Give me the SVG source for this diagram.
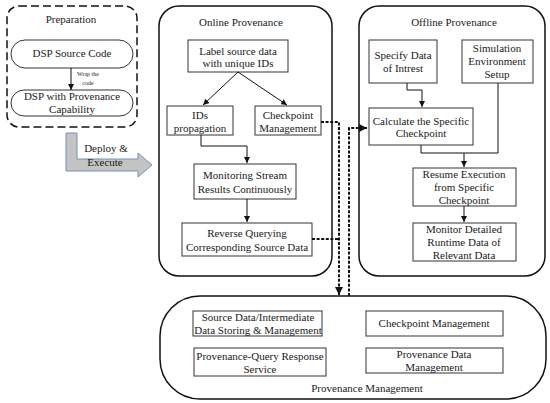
<svg xmlns="http://www.w3.org/2000/svg" width="550" height="403" viewBox="0 0 550 403" font-family="'Liberation Serif', 'DejaVu Serif', serif">
<defs>
<style>
text{font-family:'Liberation Serif','DejaVu Serif',serif;font-size:11px;fill:#1a1a1a;text-anchor:middle}
.sm{font-size:6px}
.box{fill:#fff;stroke:#333;stroke-width:1}
.cont{fill:#fff;stroke:#111;stroke-width:1.5}
.ln{fill:none;stroke:#111;stroke-width:1}
.dash{fill:none;stroke:#111;stroke-width:2;stroke-dasharray:3,1.6}
</style>
<marker id="ah" viewBox="0 0 10 10" refX="10" refY="5" markerWidth="6" markerHeight="6" markerUnits="userSpaceOnUse" orient="auto"><path d="M0,0L10,5L0,10z" fill="#111"/></marker>
<marker id="ahb" viewBox="0 0 10 10" refX="10" refY="5" markerWidth="8" markerHeight="8" markerUnits="userSpaceOnUse" orient="auto"><path d="M0,0L10,5L0,10z" fill="#111"/></marker>
</defs>
<rect width="550" height="403" fill="#fff"/>

<g id="preparation">
<rect x="7" y="6" width="130" height="121" rx="12" fill="#fff" stroke="#111" stroke-width="1.5" stroke-dasharray="8,4"/>
<text x="71" y="23">Preparation</text>
</g>
<g id="dsp-source">
<rect x="11" y="40" width="122" height="28" rx="14" class="box" stroke-width="1.2"/>
<text x="72" y="57">DSP Source Code</text>
</g>
<g id="dsp-prov">
<rect x="11" y="90" width="122" height="26" rx="13" class="box" stroke-width="1.2"/>
<text x="72" y="100">DSP with Provenance</text>
<text x="72" y="113">Capability</text>
</g>
<g id="deploy">
<polygon points="66,133 77,133 77,159 138,159 138,153 152,165 138,177 138,171 66,171" fill="#c4c4c4" stroke="#7392b8" stroke-width="1"/>
<text x="106" y="152">Deploy &amp;</text>
<text x="105" y="166">Execute</text>
</g>

<g id="online">
<rect x="159" y="6" width="173" height="270" rx="20" class="cont"/>
<text x="241" y="26">Online Provenance</text>
</g>
<g id="label"><rect x="188" y="40" width="100" height="32" class="box"/><text x="238" y="55">Label source data</text><text x="238" y="67">with unique IDs</text></g>
<g id="ids"><rect x="167" y="106" width="66" height="29" class="box"/><text x="200" y="119">IDs</text><text x="200" y="132">propagation</text></g>
<g id="ckpt-online"><rect x="255" y="106" width="66" height="29" class="box"/><text x="288" y="119">Checkpoint</text><text x="288" y="132">Management</text></g>
<g id="monitoring"><rect x="194" y="164" width="102" height="35" class="box"/><text x="245" y="179">Monitoring Stream</text><text x="245" y="193">Results Continuously</text></g>
<g id="reverse"><rect x="182" y="223" width="130" height="33" class="box"/><text x="247" y="237">Reverse Querying</text><text x="247" y="251">Corresponding Source Data</text></g>

<g id="offline">
<rect x="359" y="6" width="186" height="270" rx="20" class="cont"/>
<text x="454" y="26">Offline Provenance</text>
</g>
<g id="specify"><rect x="369" y="40" width="68" height="43" class="box"/><text x="403" y="59">Specify Data</text><text x="403" y="72">of Intrest</text></g>
<g id="simulation"><rect x="462" y="40" width="71" height="43" class="box"/><text x="497" y="52">Simulation</text><text x="497" y="65">Environment</text><text x="497" y="78">Setup</text></g>
<g id="calculate"><rect x="369" y="108" width="104" height="37" class="box"/><text x="421" y="125">Calculate the Specific</text><text x="421" y="137">Checkpoint</text></g>
<g id="resume"><rect x="413" y="168" width="103" height="38" class="box"/><text x="464" y="178">Resume Execution</text><text x="464" y="191">from Specific</text><text x="464" y="204">Checkpoint</text></g>
<g id="monitor-detailed"><rect x="413" y="223" width="103" height="38" class="box"/><text x="464" y="233">Monitor Detailed</text><text x="464" y="246">Runtime Data of</text><text x="464" y="259">Relevant Data</text></g>

<g id="prov-mgmt">
<rect x="160" y="296" width="386" height="103" rx="40" class="cont"/>
<text x="367" y="392">Provenance Management</text>
</g>
<g id="pm-source"><rect x="193" y="311" width="129" height="25" class="box"/><text x="258" y="321">Source Data/Intermediate</text><text x="258" y="334">Data Storing &amp; Management</text></g>
<g id="pm-ckpt"><rect x="366" y="311" width="137" height="25" class="box"/><text x="434" y="327">Checkpoint Management</text></g>
<g id="pm-query"><rect x="194" y="348" width="132" height="28" class="box"/><text x="260" y="360">Provenance-Query Response</text><text x="260" y="373">Service</text></g>
<g id="pm-data"><rect x="366" y="348" width="137" height="25" class="box"/><text x="434" y="358">Provenance Data</text><text x="434" y="371">Management</text></g>

<g id="connectors">
<line x1="71" y1="68" x2="71" y2="90" class="ln" marker-end="url(#ah)"/>
<text class="sm" x="88" y="76">Wrap the</text>
<text class="sm" x="88" y="85">code</text>
<line x1="238" y1="72" x2="203" y2="105" class="ln" marker-end="url(#ah)"/>
<line x1="238" y1="72" x2="287" y2="105" class="ln" marker-end="url(#ah)"/>
<polyline points="201,135 201,146 247,146 247,163" class="ln" marker-end="url(#ah)"/>
<line x1="247" y1="199" x2="247" y2="222" class="ln" marker-end="url(#ah)"/>
<polyline points="407,83 407,90 422,90 422,107" class="ln" marker-end="url(#ah)"/>
<polyline points="421,145 421,153 498,153 498,83" class="ln"/>
<line x1="464" y1="153" x2="464" y2="167" class="ln" marker-end="url(#ah)"/>
<line x1="464" y1="206" x2="464" y2="222" class="ln" marker-end="url(#ah)"/>
<polyline points="321,122 339,122 339,295" class="dash" marker-end="url(#ahb)"/>
<line x1="312" y1="239" x2="339" y2="239" class="dash"/>
<polyline points="349,296 349,128 367,128" class="dash" marker-end="url(#ahb)"/>
</g>
</svg>
